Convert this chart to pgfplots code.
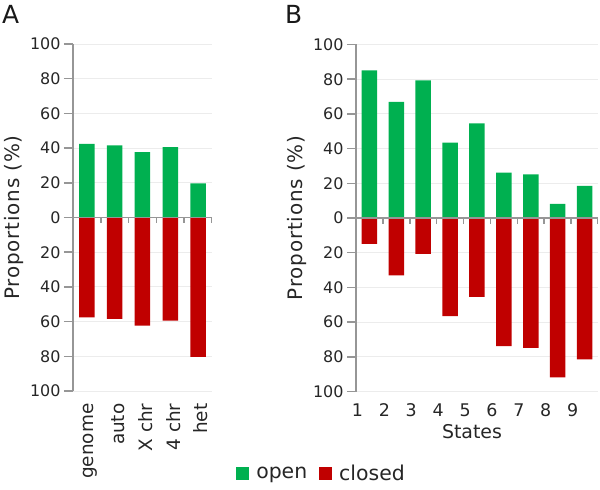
\documentclass[border=0pt]{standalone}
\usepackage{fontspec}
\setmainfont{DejaVu Sans}
\newfontfamily\ylabfont[LetterSpace=4]{DejaVu Sans}
\usepackage{pgfplots}
\pgfplotsset{compat=1.18}
\definecolor{cgreen}{RGB}{0,176,80}
\definecolor{cred}{RGB}{192,0,0}
\definecolor{axgray}{RGB}{150,150,150}
\definecolor{gridgray}{RGB}{236,236,236}
\pgfplotsset{
 sqlegend/.style={legend image code/.code={\fill[##1] (0bp,-6.5bp) rectangle (13bp,6.5bp);}},
 mystyle/.style={
  scale only axis,
  anchor=south west,
  ybar, bar width=15.5bp, bar shift=0pt,
  ymin=-100, ymax=100,
  ytick={-100,-80,...,100},
  yticklabels={100,80,60,40,20,0,20,40,60,80,100},
  ymajorgrids, grid style={gridgray, line width=0.8bp},
  axis y line*=left,
  axis x line*=bottom,
  x axis line style={draw=none},
  y axis line style={axgray, line width=1.5bp},
  ytick style={axgray, line width=1.5bp},
  xtick style={draw=none},
  major tick length=9bp,
  tick align=outside,
  /pgf/number format/assume math mode=true,
  ticklabel style={font=\fontsize{16}{19}\selectfont, text=black!85},
  label style={font=\fontsize{19}{22}\selectfont, text=black!85},
  ylabel={Proportions (\%)},
  ylabel style={font=\ylabfont\fontsize{20}{23}\selectfont, xshift=0bp},
 }
}
\begin{document}
\begin{tikzpicture}
\path[use as bounding box] (0bp,0bp) rectangle (600bp,490bp);
\begin{axis}[mystyle,
  at={(73bp,99bp)}, width=139bp, height=347bp,
  xmin=-0.5, xmax=4.5,
  xtick={0,1,2,3,4},
  xticklabels={genome,auto,X chr,4 chr,het},
  xticklabel style={rotate=90, anchor=east, font=\fontsize{18.5}{21}\selectfont, yshift=-3bp},
]
\addplot[fill=cgreen, draw=none] coordinates {(0,42.4) (1,41.5) (2,37.7) (3,40.5) (4,19.7)};
\addplot[fill=cred, draw=none] coordinates {(0,-57.6) (1,-58.5) (2,-62.3) (3,-59.5) (4,-80.3)};
\draw[axgray, line width=1.5bp] (axis cs:-0.5,0) -- (axis cs:4.5,0)
  (axis cs:0.5,0) -- ++(0bp,-6bp) (axis cs:1.5,0) -- ++(0bp,-6bp)
  (axis cs:2.5,0) -- ++(0bp,-6bp) (axis cs:3.5,0) -- ++(0bp,-6bp)
  (axis cs:4.5,0) -- ++(0bp,-6bp);
\end{axis}
\begin{axis}[mystyle,
  at={(356bp,98.5bp)}, width=242bp, height=347bp,
  xmin=0.5, xmax=9.5,
  xtick={0.5,1.5,2.5,3.5,4.5,5.5,6.5,7.5,8.5},
  xticklabels={1,2,3,4,5,6,7,8,9},
  xticklabel style={font=\fontsize{17.5}{20}\selectfont, xshift=1.5bp},
  xlabel={States},
  xlabel style={xshift=-5bp},
  legend columns=2,
  legend style={at={(-0.508,-0.235)}, anchor=west, draw=none, fill=none,
    font=\fontsize{20.5}{24}\selectfont, text=black!85,
    /tikz/every odd column/.append style={column sep=5bp},
    /tikz/every even column/.append style={column sep=10bp}},
]
\addplot[fill=cgreen, draw=none, sqlegend] coordinates {(1,85.1) (2,66.9) (3,79.3) (4,43.4) (5,54.5) (6,26.2) (7,25.2) (8,8.2) (9,18.5)};
\addplot[fill=cred, draw=none, sqlegend] coordinates {(1,-14.9) (2,-33.1) (3,-20.7) (4,-56.6) (5,-45.5) (6,-73.8) (7,-74.8) (8,-91.8) (9,-81.5)};
\legend{open,closed}
\draw[axgray, line width=1.5bp] (axis cs:0.5,0) -- (axis cs:9.5,0)
  (axis cs:1.5,0) -- ++(0bp,-6bp) (axis cs:2.5,0) -- ++(0bp,-6bp)
  (axis cs:3.5,0) -- ++(0bp,-6bp) (axis cs:4.5,0) -- ++(0bp,-6bp)
  (axis cs:5.5,0) -- ++(0bp,-6bp) (axis cs:6.5,0) -- ++(0bp,-6bp)
  (axis cs:7.5,0) -- ++(0bp,-6bp) (axis cs:8.5,0) -- ++(0bp,-6bp)
  (axis cs:9.5,0) -- ++(0bp,-6bp);
\end{axis}
\node[anchor=north west, inner sep=0pt, font=\fontsize{25}{30}\selectfont, text=black!90] at (2bp,485bp) {A};
\node[anchor=north west, inner sep=0pt, font=\fontsize{25}{30}\selectfont, text=black!90] at (285bp,485bp) {B};
\end{tikzpicture}
\end{document}
